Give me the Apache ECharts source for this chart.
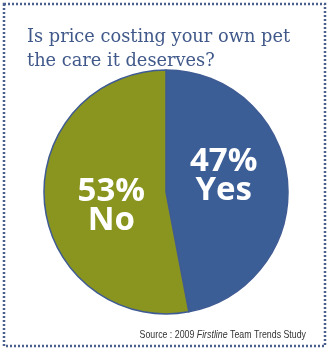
<!DOCTYPE html>
<html><head><meta charset="utf-8">
<script src="https://cdn.jsdelivr.net/npm/echarts@6/dist/echarts.min.js"></script>
<style>html,body{margin:0;padding:0;background:#fff}#c{width:332px;height:354px}</style>
</head><body><div id="c"></div>
<script>
const categories = ["Yes", "No"];
const values = [47, 53];
const titleLines = ["Is price costing your own pet", "the care it deserves?"];
const sourceText = ["Source : 2009 ", "Firstline", " Team Trends Study"];

const colors = ["#3b5e97", "#8a9520"];
const labelShift = [[-6, -10], [9, 8]];

const chart = echarts.init(document.getElementById('c'), null, {renderer: 'canvas'});
chart.setOption({
  animation: false,
  backgroundColor: '#fff',
  title: {
    text: titleLines.join('\n'),
    left: 22, top: 20,
    textStyle: {fontFamily: 'DejaVu Serif', fontSize: 17.8, fontWeight: 'normal', color: '#41598a', lineHeight: 24}
  },
  graphic: [
    {type: 'rect', shape: {x: 4, y: 4, width: 321, height: 342},
     style: {fill: 'none', stroke: '#4a5f8e', lineWidth: 2.5, lineDash: [2, 2]}},
    {type: 'text', x: 306, y: 335, scaleX: 0.8,
     style: {align: 'right', verticalAlign: 'middle',
             rich: {a: {fontFamily: 'Liberation Sans', fontSize: 11, fill: '#333'},
                    b: {fontFamily: 'Liberation Sans', fontSize: 11, fontStyle: 'italic', fill: '#333'}},
             text: '{a|' + sourceText[0] + '}{b|' + sourceText[1] + '}{a|' + sourceText[2] + '}'}}
  ],
  series: [{
    type: 'pie',
    center: [166, 192],
    radius: [0, 122],
    startAngle: 90,
    clockwise: true,
    silent: true,
    itemStyle: {borderColor: '#3f5b93', borderWidth: 1.5},
    label: {
      show: true, position: 'inside',
      formatter: p => p.value + '%\n' + p.name,
      color: '#fff', fontFamily: 'Open Sans', fontWeight: 'bold', fontSize: 33, lineHeight: 29
    },
    labelLayout: p => ({dx: labelShift[p.dataIndex][0], dy: labelShift[p.dataIndex][1]}),
    labelLine: {show: false},
    data: categories.map((c, i) => ({name: c, value: values[i], itemStyle: {color: colors[i]}}))
  }]
});
</script></body></html>
